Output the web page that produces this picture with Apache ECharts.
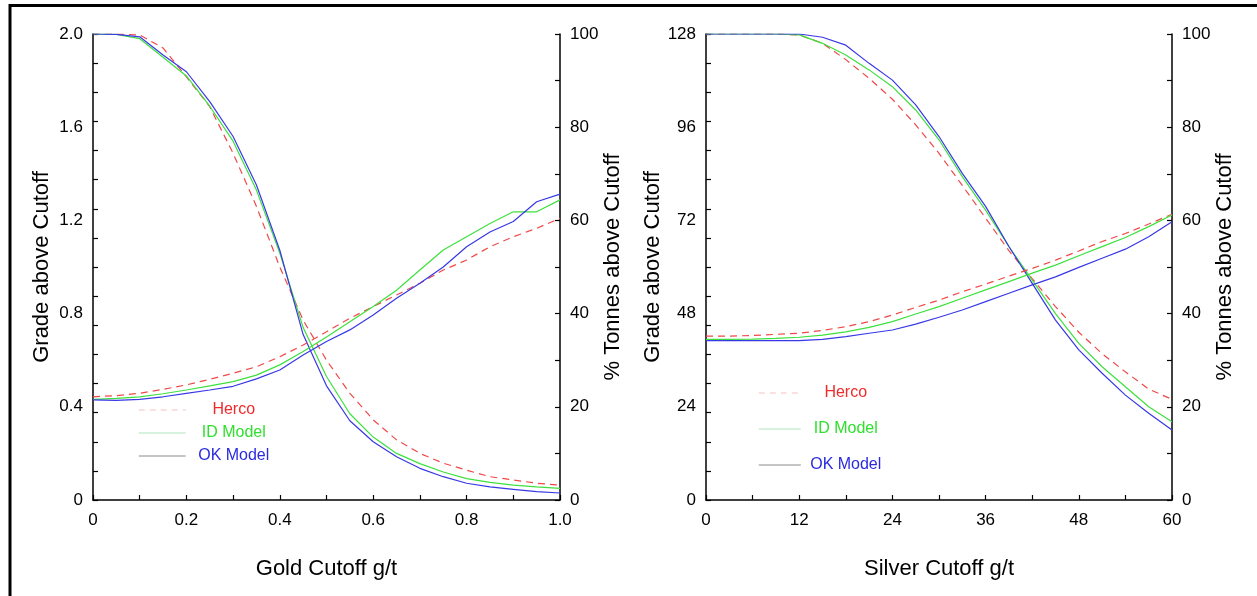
<!DOCTYPE html>
<html>
<head>
<meta charset="utf-8">
<title>Cutoff curves</title>
<script src="https://cdn.jsdelivr.net/npm/echarts@6/dist/echarts.min.js"></script>
<style>
  html, body { margin: 0; padding: 0; background: #fff; }
  #chart { width: 1257px; height: 596px; }
</style>
</head>
<body>
<div id="chart"></div>
<script>
// gold cutoff g/t
const goldCutoffs = [0, 0.05, 0.1, 0.15, 0.2, 0.25, 0.3, 0.35, 0.4, 0.45, 0.5, 0.55, 0.6, 0.65, 0.7, 0.75, 0.8, 0.85, 0.9, 0.95, 1.0];
// % tonnes above cutoff
const goldTonnesHerco = [100, 100, 99.8, 97, 90.8, 84.4, 74.4, 63, 50, 38.6, 30, 22.9, 17.2, 12.9, 10, 7.9, 6.4, 5, 4.3, 3.6, 3.2];
const goldTonnesId = [100, 99.9, 99, 95, 91, 84.5, 77, 66.5, 53, 37, 26.5, 18.5, 13.5, 10, 7.8, 6, 4.6, 3.8, 3.2, 2.8, 2.5];
const goldTonnesOk = [100, 99.9, 99.4, 95.5, 91.9, 85.5, 78, 67.6, 53.6, 35.5, 24.5, 17, 12.5, 9.3, 6.8, 5, 3.6, 2.8, 2.3, 1.8, 1.5];
// grade above cutoff
const goldGradeHerco = [0.443, 0.448, 0.458, 0.475, 0.494, 0.518, 0.544, 0.572, 0.615, 0.665, 0.722, 0.78, 0.83, 0.88, 0.93, 0.987, 1.03, 1.087, 1.13, 1.166, 1.209];
const goldGradeId = [0.432, 0.436, 0.443, 0.456, 0.472, 0.49, 0.508, 0.536, 0.58, 0.637, 0.7, 0.765, 0.83, 0.9, 0.987, 1.073, 1.13, 1.187, 1.237, 1.237, 1.288];
const goldGradeOk = [0.43, 0.428, 0.432, 0.443, 0.458, 0.472, 0.488, 0.52, 0.558, 0.622, 0.68, 0.73, 0.794, 0.866, 0.93, 1.0, 1.087, 1.15, 1.195, 1.28, 1.313];

// silver cutoff g/t
const silverCutoffs = [0, 3, 6, 9, 12, 15, 18, 21, 24, 27, 30, 33, 36, 39, 42, 45, 48, 51, 54, 57, 60];
const silverTonnesHerco = [100, 100, 100, 100, 99.8, 98, 94.5, 90.5, 86, 80.5, 74.4, 67.5, 60.5, 53.5, 47.5, 41.5, 36, 31.4, 27.5, 23.8, 21.6];
const silverTonnesId = [100, 100, 100, 100, 99.8, 98, 95.5, 92.3, 88.7, 83.7, 77.3, 69.4, 62.2, 54.4, 47.2, 40, 33.6, 28.6, 24.3, 20, 16.8];
const silverTonnesOk = [100, 100, 100, 100, 100, 99.3, 97.6, 93.7, 90.1, 84.8, 78, 70.1, 63, 54.4, 46.5, 38.6, 32.2, 27.2, 22.5, 18.6, 15];
const silverGradeHerco = [45, 45, 45.2, 45.5, 45.8, 46.6, 47.6, 49, 50.8, 52.9, 54.9, 57.2, 59.3, 61.5, 63.6, 65.9, 68.4, 71, 73.2, 75.8, 78.5];
const silverGradeId = [44.1, 44.1, 44.2, 44.4, 44.7, 45.3, 46.2, 47.4, 49, 51.1, 53.1, 55.4, 57.7, 60, 62.3, 64.5, 67.1, 69.6, 72.1, 75.1, 78.3];
const silverGradeOk = [43.8, 43.8, 43.8, 43.8, 43.8, 44.1, 44.9, 45.8, 46.7, 48.3, 50.2, 52.2, 54.5, 56.8, 59.1, 61.3, 63.9, 66.4, 68.9, 72.3, 76.4];

// tick labels
const goldGradeTicks = [0, 0.4, 0.8, 1.2, 1.6, 2.0];
const silverGradeTickPos = [0, 25.6, 51.2, 76.8, 102.4, 128];
const silverGradeLabels = ['0', '24', '48', '72', '96', '128'];

const models = ['Herco', 'ID Model', 'OK Model'];
const colors = { 'Herco': '#f04848', 'ID Model': '#3ee03e', 'OK Model': '#3838e6' };
const font = 'Liberation Sans, Arial, sans-serif';

const chart = echarts.init(document.getElementById('chart'));

function pairs(xs, ys) {
  return xs.map((x, i) => [x, ys[i]]);
}

function line(name, xi, yi, xs, ys) {
  return {
    name: name,
    type: 'line',
    xAxisIndex: xi,
    yAxisIndex: yi,
    symbol: 'none',
    showSymbol: false,
    animation: false,
    lineStyle: {
      color: colors[name],
      width: 1.2,
      type: name === 'Herco' ? [7, 5] : 'solid'
    },
    itemStyle: { color: colors[name] },
    data: pairs(xs, ys)
  };
}

const axisLine = { show: true, onZero: false, lineStyle: { color: '#000', width: 1.5 } };
const axisTick = { show: true, inside: true, length: 5, lineStyle: { color: '#000', width: 1.2 } };
const labelStyle = { color: '#000', fontSize: 17, fontFamily: font };
const nameStyle = { color: '#000', fontSize: 22, fontFamily: font };

function xAxis(grid, max, interval, name, fmt) {
  return {
    gridIndex: grid, type: 'value', min: 0, max: max, interval: interval,
    axisLine: axisLine, axisTick: axisTick, splitLine: { show: false },
    axisLabel: Object.assign({ margin: 12, formatter: fmt }, labelStyle),
    name: name, nameLocation: 'middle', nameGap: 58, nameTextStyle: nameStyle
  };
}

function tonnesAxis(grid, gap) {
  return {
    gridIndex: grid, type: 'value', position: 'right', min: 0, max: 100, interval: 10,
    axisLine: axisLine, axisTick: axisTick, splitLine: { show: false },
    axisLabel: Object.assign({ margin: 10, formatter: v => (v % 20 === 0 ? String(v) : '') }, labelStyle),
    name: '% Tonnes above Cutoff', nameLocation: 'middle', nameRotate: 90, nameGap: gap,
    nameTextStyle: nameStyle
  };
}

function legend(left, top, gap, iconW, textW) {
  const hidden = { color: 'rgba(0,0,0,0)', borderWidth: 0, opacity: 0 };
  return {
    orient: 'vertical', left: left, top: top, itemGap: gap, padding: 0,
    itemWidth: iconW, itemHeight: 14, selectedMode: false,
    data: [
      { name: 'Herco', itemStyle: hidden, lineStyle: { color: '#f3c4c4', type: [6, 5], width: 1.2 } },
      { name: 'ID Model', itemStyle: hidden, lineStyle: { color: '#cdeed6', width: 1.5 } },
      { name: 'OK Model', itemStyle: hidden, lineStyle: { color: '#8a8a8a', width: 1 } }
    ],
    formatter: name => '{' + (name === 'Herco' ? 'h' : name === 'ID Model' ? 'i' : 'o') + '|' + name + '}',
    textStyle: {
      fontFamily: font, fontSize: 16, lineHeight: 16,
      rich: {
        h: { color: '#ee2a2a', fontSize: 16, fontFamily: font, width: textW, align: 'center' },
        i: { color: '#2fe02f', fontSize: 16, fontFamily: font, width: textW, align: 'center' },
        o: { color: '#2a2ae0', fontSize: 16, fontFamily: font, width: textW, align: 'center' }
      }
    }
  };
}

const option = {
  backgroundColor: '#fff',
  animation: false,
  graphic: [{
    type: 'rect', z: -1,
    shape: { x: 10, y: 5.5, width: 1400, height: 800 },
    style: { fill: 'none', stroke: '#000', lineWidth: 3 }
  }],
  grid: [
    { left: 93, top: 34, width: 467, height: 466 },
    { left: 706, top: 34, width: 466, height: 466 }
  ],
  legend: [
    legend(138, 402, 7, 47, 86),
    legend(758, 385, 20, 42, 80)
  ],
  xAxis: [
    xAxis(0, 1, 0.1, 'Gold Cutoff g/t', v => {
      const k = Math.round(v * 10);
      if (k % 2 !== 0) return '';
      return k === 0 ? '0' : (k / 10).toFixed(1);
    }),
    xAxis(1, 60, 6, 'Silver Cutoff g/t', v => (v % 12 === 0 ? String(v) : ''))
  ],
  yAxis: [
    {
      gridIndex: 0, type: 'value', position: 'left', min: 0, max: 2, interval: 0.125,
      axisLine: axisLine, axisTick: axisTick, splitLine: { show: false },
      axisLabel: Object.assign({
        margin: 10, customValues: goldGradeTicks,
        formatter: v => (v === 0 ? '0' : v.toFixed(1))
      }, labelStyle),
      name: 'Grade above Cutoff', nameLocation: 'middle', nameRotate: 90, nameGap: 40,
      nameTextStyle: nameStyle
    },
    tonnesAxis(0, 39),
    {
      gridIndex: 1, type: 'value', position: 'left', min: 0, max: 128, interval: 8,
      axisLine: axisLine, axisTick: axisTick, splitLine: { show: false },
      axisLabel: Object.assign({
        margin: 10, customValues: silverGradeTickPos,
        formatter: v => silverGradeLabels[Math.round(v / 25.6)]
      }, labelStyle),
      name: 'Grade above Cutoff', nameLocation: 'middle', nameRotate: 90, nameGap: 40,
      nameTextStyle: nameStyle
    },
    tonnesAxis(1, 42)
  ],
  series: [
    line('Herco', 0, 1, goldCutoffs, goldTonnesHerco),
    line('ID Model', 0, 1, goldCutoffs, goldTonnesId),
    line('OK Model', 0, 1, goldCutoffs, goldTonnesOk),
    line('Herco', 0, 0, goldCutoffs, goldGradeHerco),
    line('ID Model', 0, 0, goldCutoffs, goldGradeId),
    line('OK Model', 0, 0, goldCutoffs, goldGradeOk),
    line('Herco', 1, 3, silverCutoffs, silverTonnesHerco),
    line('ID Model', 1, 3, silverCutoffs, silverTonnesId),
    line('OK Model', 1, 3, silverCutoffs, silverTonnesOk),
    line('Herco', 1, 2, silverCutoffs, silverGradeHerco),
    line('ID Model', 1, 2, silverCutoffs, silverGradeId),
    line('OK Model', 1, 2, silverCutoffs, silverGradeOk)
  ]
};

chart.setOption(option);
</script>
</body>
</html>
